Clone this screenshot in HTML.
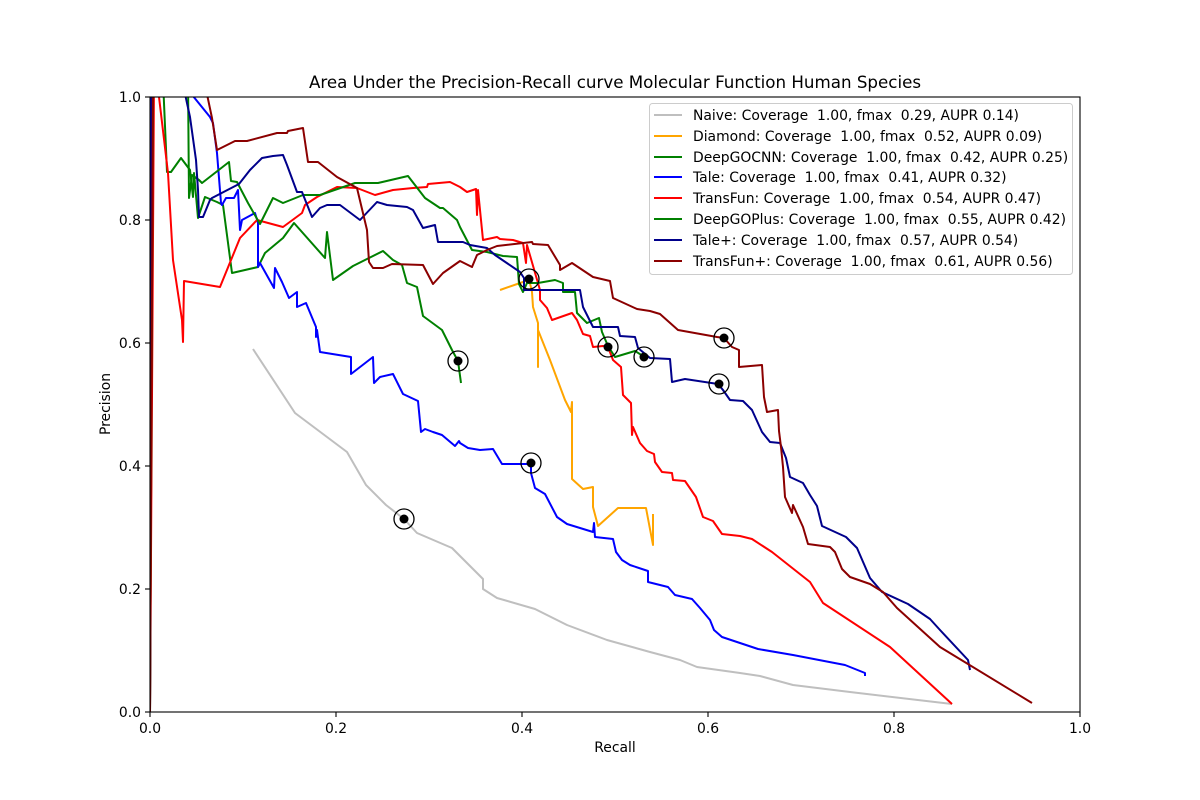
<!DOCTYPE html>
<html><head><meta charset="utf-8"><style>
html,body{margin:0;padding:0;background:#fff;}
svg{display:block;font-family:"DejaVu Sans","Liberation Sans",sans-serif;}
</style></head><body>
<svg width="1200" height="800" viewBox="0 0 1200 800" xmlns="http://www.w3.org/2000/svg">
<defs><clipPath id="ax"><rect x="150" y="97" width="930" height="615"/></clipPath></defs>
<rect x="0" y="0" width="1200" height="800" fill="#fff"/>
<g clip-path="url(#ax)" fill="none" stroke-width="2" stroke-linejoin="round" stroke-linecap="butt">
<polyline stroke="#bfbfbf" points="253,349 295,413 347,452 366,485 386,505 404,519 417,533 452,548 483,579 483,589 497,598 535,609 567,625 607,640 650,652 680,660 697,667 740,673 760,676 793,685 850,692 952,704"/>
<polyline stroke="#ffa500" points="500,290 523,282 529,279 532,292 533,307 538,323 538,367 538,330 550,360 565,400 571,412 572,402 572,479 583,489 593,487 593,507 598,526 618,508 646,508 653,545 653,514"/>
<polyline stroke="#008000" points="150,712 152,80 163,80 167,172 171,172 181,158 190,170 193,197 194,173 198,218 205,197 217,202 223,205 232,273 258,267 265,253 283,238 294,223 325,258 327,232 333,280 353,266 383,251 393,260 402,265 407,283 417,287 423,316 442,330 452,350 458,361 461,383"/>
<polyline stroke="#0000ff" points="150,712 151,80 180,80 210,117 213,123 217,153 221,203 222,205 226,198 234,198 238,190 240,230 242,220 255,213 258,223 258,267 260,263 274,288 275,268 282,282 289,298 297,292 297,307 306,303 316,327 316,337 317,330 320,352 351,357 351,374 373,357 374,383 380,377 393,374 403,394 418,401 421,432 425,429 433,432 442,435 455,446 459,441 460,443 468,448 480,450 493,449 502,464 528,464 531,463 531,473 535,488 545,494 557,517 567,524 593,532 594,523 595,537 613,539 616,552 622,560 630,565 648,571 648,582 668,587 675,595 692,599 700,608 710,620 714,630 722,637 740,643 758,649 793,655 845,665 865,673 865,676"/>
<polyline stroke="#ff0000" points="150,712 154,80 157,80 168,173 173,260 182,320 183,342 184,281 220,287 240,238 257,220 283,227 302,213 305,205 317,197 337,187 357,188 375,195 393,190 413,188 427,187 428,184 450,182 460,187 467,192 476,189 477,215 478,190 483,240 497,237 500,239 513,240 523,243 526,263 527,245 540,290 540,300 547,308 552,320 572,313 577,320 583,334 590,336 593,347 603,346 608,347 613,360 621,367 623,395 631,403 632,435 633,427 640,443 647,451 654,454 655,462 662,472 672,473 673,480 685,481 696,497 703,517 713,521 722,534 740,536 752,539 772,552 810,582 823,603 890,647 952,704"/>
<polyline stroke="#008000" points="150,712 153,80 188,80 189,198 192,175 199,180 202,183 229,162 231,181 237,182 248,203 260,224 273,198 283,203 303,195 320,195 355,183 378,183 408,176 425,198 440,208 443,208 457,220 460,227 472,250 487,252 503,256 517,257 519,284 523,292 527,283 538,283 555,280 563,283 563,292 575,292 577,313 587,323 599,318 602,332 608,346 615,357 635,351 643,356"/>
<polyline stroke="#00008b" points="150,712 152,80 182,80 190,117 196,160 198,190 199,217 203,217 210,200 212,198 239,184 250,170 262,158 273,156 283,155 287,165 297,192 302,192 312,217 320,208 327,205 340,205 360,220 377,202 387,205 407,207 413,210 423,228 435,225 438,242 447,242 463,242 470,245 487,248 495,255 520,272 524,278 524,290 580,290 583,307 593,327 618,327 620,336 635,337 638,348 650,358 670,359 672,382 685,379 718,384 723,390 730,400 743,401 752,410 762,432 770,442 780,443 786,458 790,477 803,483 810,495 817,506 822,526 846,537 857,548 870,578 882,592 908,604 930,619 940,630 968,660 970,670"/>
<polyline stroke="#8b0000" points="150,712 153,80 204,80 212,118 217,150 235,141 247,141 277,133 287,133 288,131 303,128 308,162 318,162 337,177 357,188 367,230 369,262 373,268 383,268 392,264 423,265 433,284 443,273 460,261 472,267 477,255 487,250 497,246 532,242 533,244 548,245 560,265 560,270 572,263 593,277 610,281 613,298 637,309 650,311 660,314 678,330 717,337 724,338 732,347 739,350 739,367 762,365 764,397 767,412 778,410 779,431 781,447 783,467 785,497 792,513 793,505 803,527 808,544 830,547 835,552 842,569 850,577 870,584 883,592 897,608 940,647 1032,703"/>
</g>
<g fill="#000">
<circle cx="404" cy="519" r="4.5"/><circle cx="531" cy="463" r="4.5"/><circle cx="458" cy="361" r="4.5"/><circle cx="529" cy="279" r="4.5"/>
<circle cx="608" cy="347" r="4.5"/><circle cx="644" cy="357" r="4.5"/><circle cx="719" cy="384" r="4.5"/><circle cx="724" cy="338" r="4.5"/>
</g>
<g fill="none" stroke="#000" stroke-width="1.3">
<circle cx="404" cy="519" r="10"/><circle cx="531" cy="463" r="10"/><circle cx="458" cy="361" r="10"/><circle cx="529" cy="279" r="10"/>
<circle cx="608" cy="347" r="10"/><circle cx="644" cy="357" r="10"/><circle cx="719" cy="384" r="10"/><circle cx="724" cy="338" r="10"/>
</g>
<rect x="150" y="97" width="930" height="615" fill="none" stroke="#000" stroke-width="1.1"/>
<g stroke="#000" stroke-width="1.1">
<line x1="150" y1="712" x2="150" y2="717"/><line x1="336" y1="712" x2="336" y2="717"/><line x1="522" y1="712" x2="522" y2="717"/><line x1="708" y1="712" x2="708" y2="717"/><line x1="894" y1="712" x2="894" y2="717"/><line x1="1080" y1="712" x2="1080" y2="717"/>
<line x1="145" y1="712" x2="150" y2="712"/><line x1="145" y1="589" x2="150" y2="589"/><line x1="145" y1="466" x2="150" y2="466"/><line x1="145" y1="343" x2="150" y2="343"/><line x1="145" y1="220" x2="150" y2="220"/><line x1="145" y1="97" x2="150" y2="97"/>
</g>
<g font-size="13.9" fill="#000" text-anchor="middle">
<text x="150" y="733">0.0</text><text x="336" y="733">0.2</text><text x="522" y="733">0.4</text><text x="708" y="733">0.6</text><text x="894" y="733">0.8</text><text x="1080" y="733">1.0</text>
</g>
<g font-size="13.9" fill="#000" text-anchor="end">
<text x="141" y="717">0.0</text><text x="141" y="594">0.2</text><text x="141" y="471">0.4</text><text x="141" y="348">0.6</text><text x="141" y="225">0.8</text><text x="141" y="102">1.0</text>
</g>
<text x="615" y="752" font-size="13.9" text-anchor="middle">Recall</text>
<text x="0" y="0" font-size="13.9" text-anchor="middle" transform="translate(110,404) rotate(-90)">Precision</text>
<text x="615" y="88" font-size="16.7" text-anchor="middle">Area Under the Precision-Recall curve Molecular Function Human Species</text>
<rect x="649.5" y="103.5" width="423" height="171" rx="3" ry="3" fill="#fff" fill-opacity="0.8" stroke="#cccccc" stroke-width="1"/>
<g stroke-width="2">
<line x1="654" y1="115" x2="682" y2="115" stroke="#bfbfbf"/>
<line x1="654" y1="136" x2="682" y2="136" stroke="#ffa500"/>
<line x1="654" y1="157" x2="682" y2="157" stroke="#008000"/>
<line x1="654" y1="177" x2="682" y2="177" stroke="#0000ff"/>
<line x1="654" y1="198" x2="682" y2="198" stroke="#ff0000"/>
<line x1="654" y1="219" x2="682" y2="219" stroke="#008000"/>
<line x1="654" y1="240" x2="682" y2="240" stroke="#00008b"/>
<line x1="654" y1="261" x2="682" y2="261" stroke="#8b0000"/>
</g>
<g font-size="13.9" fill="#000">
<text x="693" y="120">Naive: Coverage&#160; 1.00, fmax&#160; 0.29, AUPR 0.14)</text>
<text x="693" y="141">Diamond: Coverage&#160; 1.00, fmax&#160; 0.52, AUPR 0.09)</text>
<text x="693" y="162">DeepGOCNN: Coverage&#160; 1.00, fmax&#160; 0.42, AUPR 0.25)</text>
<text x="693" y="182">Tale: Coverage&#160; 1.00, fmax&#160; 0.41, AUPR 0.32)</text>
<text x="693" y="203">TransFun: Coverage&#160; 1.00, fmax&#160; 0.54, AUPR 0.47)</text>
<text x="693" y="224">DeepGOPlus: Coverage&#160; 1.00, fmax&#160; 0.55, AUPR 0.42)</text>
<text x="693" y="245">Tale+: Coverage&#160; 1.00, fmax&#160; 0.57, AUPR 0.54)</text>
<text x="693" y="266">TransFun+: Coverage&#160; 1.00, fmax&#160; 0.61, AUPR 0.56)</text>
</g>
</svg>
</body></html>
